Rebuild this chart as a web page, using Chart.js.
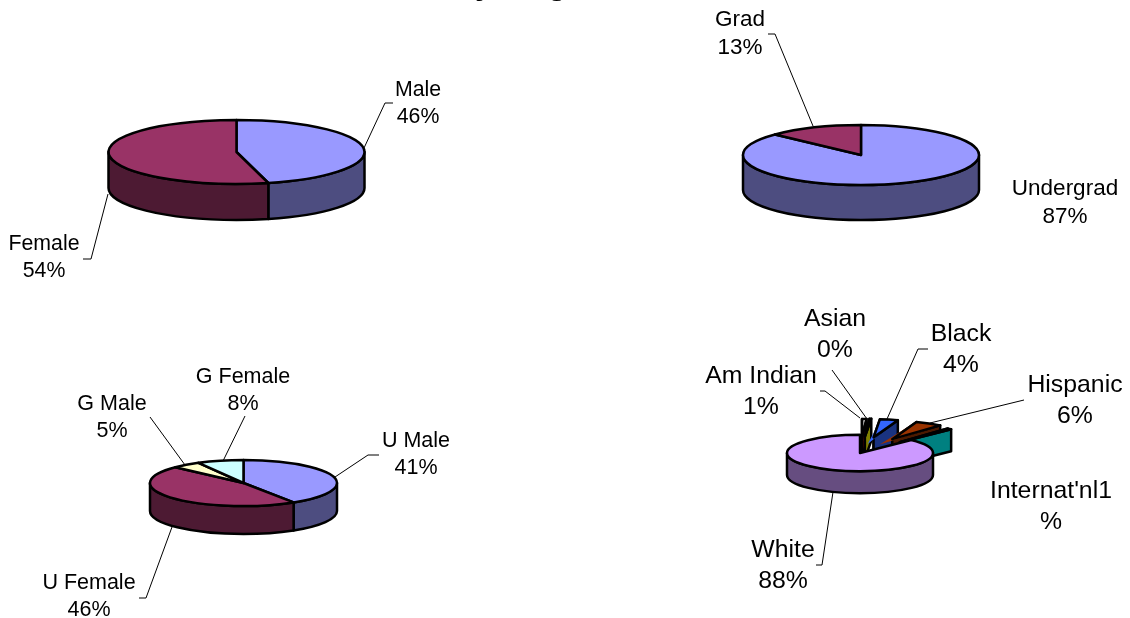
<!DOCTYPE html>
<html>
<head>
<meta charset="utf-8">
<title>Pie charts</title>
<script src="https://cdn.jsdelivr.net/npm/chart.js@4/dist/chart.umd.min.js"></script>
<style>
  html, body { margin: 0; background: #fff; }
  #wrap { position: relative; width: 1130px; height: 618px; overflow: hidden; }
  canvas { position: absolute; left: 0; top: 0; }
</style>
</head>
<body>
<div id="wrap">
  <canvas id="Gender" width="1130" height="618"></canvas>
  <canvas id="Level" width="1130" height="618"></canvas>
  <canvas id="Both" width="1130" height="618"></canvas>
  <canvas id="Race" width="1130" height="618"></canvas>
</div>
<script>
// Data
const genderLabels = ['Male', 'Female'];
const genderValues = [46, 54];

const levelLabels = ['Undergrad', 'Grad'];
const levelValues = [87, 13];

const bothLabels = ['U Male', 'U Female', 'G Male', 'G Female'];
const bothValues = [41, 46, 5, 8];

const raceLabels = ['Am Indian', 'Asian', 'Black', 'Hispanic', "Internat'nl", 'White'];
const raceValues = [1, 0.4, 4, 6, 1, 87.6];

// Colours and exploded slices
const twoColors = ['#9999ff', '#993366'];
const bothColors = ['#9999ff', '#993366', '#ffffcc', '#ccffff'];
const raceColors = ['#ff0000', '#ffff00', '#3366ff', '#993300', '#00ffff', '#cc99ff'];
const raceExplode = [131, 131, 146, 157, 121, 0];

const FONT = '"Liberation Sans", Arial, sans-serif';
const W = 1130, H = 618;

function labelLines(labels, values) {
  return labels.map((l, i) => [l, Math.round(values[i]) + '%']);
}

// textPos is the centre of each label's first line; leaders are polylines
const pies = [
  {
    id: 'Gender', labels: genderLabels, values: genderValues, colors: twoColors,
    cx: 236.5, cy: 152, r: 128, k: 0.25, depth: 36, font: 21.3, gap: 27,
    text: labelLines(genderLabels, genderValues),
    textPos: [[418, 90], [44, 244]],
    leaders: [
      [[364, 148], [385, 103], [393, 103]],
      [[108, 194], [91, 259], [83, 259]]
    ]
  },
  {
    id: 'Level', labels: levelLabels, values: levelValues, colors: twoColors,
    cx: 861, cy: 155, r: 118, k: 0.254, depth: 35, font: 22.5, gap: 28,
    text: labelLines(levelLabels, levelValues),
    textPos: [[1065, 189], [740, 20]],
    leaders: [
      [[768, 34], [775, 34], [813, 126]]
    ]
  },
  {
    id: 'Both', labels: bothLabels, values: bothValues, colors: bothColors,
    cx: 243.5, cy: 483, r: 93.5, k: 0.246, depth: 28, font: 21.5, gap: 27,
    text: labelLines(bothLabels, bothValues),
    textPos: [[416, 441], [89, 583], [112, 404], [243, 377]],
    leaders: [
      [[335, 477], [368, 455], [379, 455]],
      [[172, 527], [146, 598], [139, 598]],
      [[150, 417], [185, 465]],
      [[245, 416], [223, 461]]
    ]
  },
  {
    id: 'Race', labels: raceLabels, values: raceValues, colors: raceColors, explode: raceExplode,
    cx: 860, cy: 453, r: 73, k: 0.25, depth: 22, font: 24.8, gap: 31,
    text: [
      ['Am Indian', '1%'], ['Asian', '0%'], ['Black', '4%'],
      ['Hispanic', '6%'], ["Internat'nl1", '%'], ['White', '88%']
    ],
    textPos: [[761, 376], [835, 319], [961, 334], [1075, 385], [1051, 491], [783, 550]],
    leaders: [
      [[820, 391], [825, 391], [860, 418]],
      [[832, 370], [867, 419]],
      [[928, 349], [918, 349], [887, 419]],
      [[1024, 400], [930, 423]],
      [[816, 565], [822, 565], [833, 492]]
    ]
  }
];

function darken(hex) {
  const n = parseInt(hex.slice(1), 16);
  const half = v => Math.round(v / 2);
  return 'rgb(' + half((n >> 16) & 255) + ',' + half((n >> 8) & 255) + ',' + half(n & 255) + ')';
}

// same shift Chart.js applies inside ArcElement.draw
function arcShift(arc) {
  const offset = (arc.options.offset || 0) / 4;
  const mid = (arc.startAngle + arc.endAngle) / 2;
  const fix = 1 - Math.sin(Math.min(Math.PI, arc.circumference || 0));
  return { x: Math.cos(mid) * offset * (1 + fix), y: Math.sin(mid) * offset * (1 + fix) };
}

function paint(ctx, fill) {
  ctx.fillStyle = fill;
  ctx.fill();
  ctx.stroke();
}

function drawSlice(ctx, arc, cfg) {
  const s = arcShift(arc);
  const ax = arc.x + s.x, ay = arc.y + s.y * cfg.k;
  const r = arc.outerRadius, ry = r * cfg.k, d = cfg.depth;
  const wall = darken(arc.options.backgroundColor);
  ctx.lineWidth = 2.5;
  ctx.lineJoin = 'round';
  ctx.strokeStyle = '#000';

  // cut faces are only seen on pulled out slices
  if (s.x !== 0 || s.y !== 0) {
    [arc.startAngle, arc.endAngle].forEach(a => {
      const ex = ax + Math.cos(a) * r, ey = ay + Math.sin(a) * ry;
      ctx.beginPath();
      ctx.moveTo(ax, ay);
      ctx.lineTo(ex, ey);
      ctx.lineTo(ex, ey + d);
      ctx.lineTo(ax, ay + d);
      ctx.closePath();
      paint(ctx, wall);
    });
  }

  // outer wall, front half only
  const from = Math.max(arc.startAngle, 0), to = Math.min(arc.endAngle, Math.PI);
  if (to > from) {
    ctx.beginPath();
    ctx.ellipse(ax, ay, r, ry, 0, from, to);
    ctx.ellipse(ax, ay + d, r, ry, 0, to, from, true);
    ctx.closePath();
    paint(ctx, wall);
  }

  // top face: the library fills it, squashed
  ctx.save();
  ctx.translate(arc.x, arc.y);
  ctx.scale(1, cfg.k);
  ctx.translate(-arc.x, -arc.y);
  arc.draw(ctx);
  ctx.restore();

  // outline drawn unsquashed to keep an even width
  ctx.beginPath();
  ctx.moveTo(ax, ay);
  ctx.ellipse(ax, ay, r, ry, 0, arc.startAngle, arc.endAngle);
  ctx.closePath();
  ctx.stroke();
}

const tiltPlugin = {
  id: 'tilt',
  beforeDatasetDraw(chart) {
    const cfg = chart.options.plugins.tilt;
    const ctx = chart.ctx;
    chart.getDatasetMeta(0).data.forEach(arc => drawSlice(ctx, arc, cfg));
    return false;
  },
  afterDraw(chart) {
    const cfg = chart.options.plugins.tilt;
    const ctx = chart.ctx;
    ctx.save();
    ctx.strokeStyle = '#000';
    ctx.lineWidth = 1;
    cfg.leaders.forEach(pts => {
      ctx.beginPath();
      pts.forEach((p, i) => (i ? ctx.lineTo(p[0], p[1]) : ctx.moveTo(p[0], p[1])));
      ctx.stroke();
    });
    ctx.fillStyle = '#000';
    ctx.font = cfg.font + 'px ' + FONT;
    ctx.textAlign = 'center';
    ctx.textBaseline = 'middle';
    cfg.text.forEach((lines, i) => {
      const pos = cfg.textPos[i];
      lines.forEach((line, j) => ctx.fillText(line, pos[0], pos[1] + j * cfg.gap));
    });
    ctx.restore();
  }
};

// only the tails of the title reach into the picture
const titleTailPlugin = {
  id: 'titleTail',
  afterDraw(chart) {
    const ctx = chart.ctx;
    ctx.save();
    ctx.fillStyle = '#000';
    ctx.font = 'bold 32px ' + FONT;
    ctx.textAlign = 'center';
    ctx.textBaseline = 'alphabetic';
    ctx.fillText('y', 484, -6);
    ctx.fillText('g', 557, -6);
    ctx.restore();
  }
};

window.addEventListener('load', () => {
  pies.forEach((p, n) => {
    // the library takes the largest pull-out off the chart area, so give it back
    const spare = p.explode ? Math.max(...p.explode) / 2 : 0;
    new Chart(document.getElementById(p.id), {
      type: 'pie',
      data: {
        labels: p.labels,
        datasets: [{
          data: p.values,
          backgroundColor: p.colors,
          borderWidth: 0,
          offset: p.explode || 0,
          radius: p.r
        }]
      },
      options: {
        responsive: false,
        animation: false,
        events: [],
        layout: {
          padding: {
            left: p.cx - p.r - spare,
            right: W - p.cx - p.r - spare,
            top: p.cy - p.r - spare,
            bottom: H - p.cy - p.r - spare
          }
        },
        plugins: {
          legend: { display: false },
          tooltip: { enabled: false },
          tilt: p
        }
      },
      plugins: n === 0 ? [tiltPlugin, titleTailPlugin] : [tiltPlugin]
    });
  });
});
</script>
</body>
</html>
